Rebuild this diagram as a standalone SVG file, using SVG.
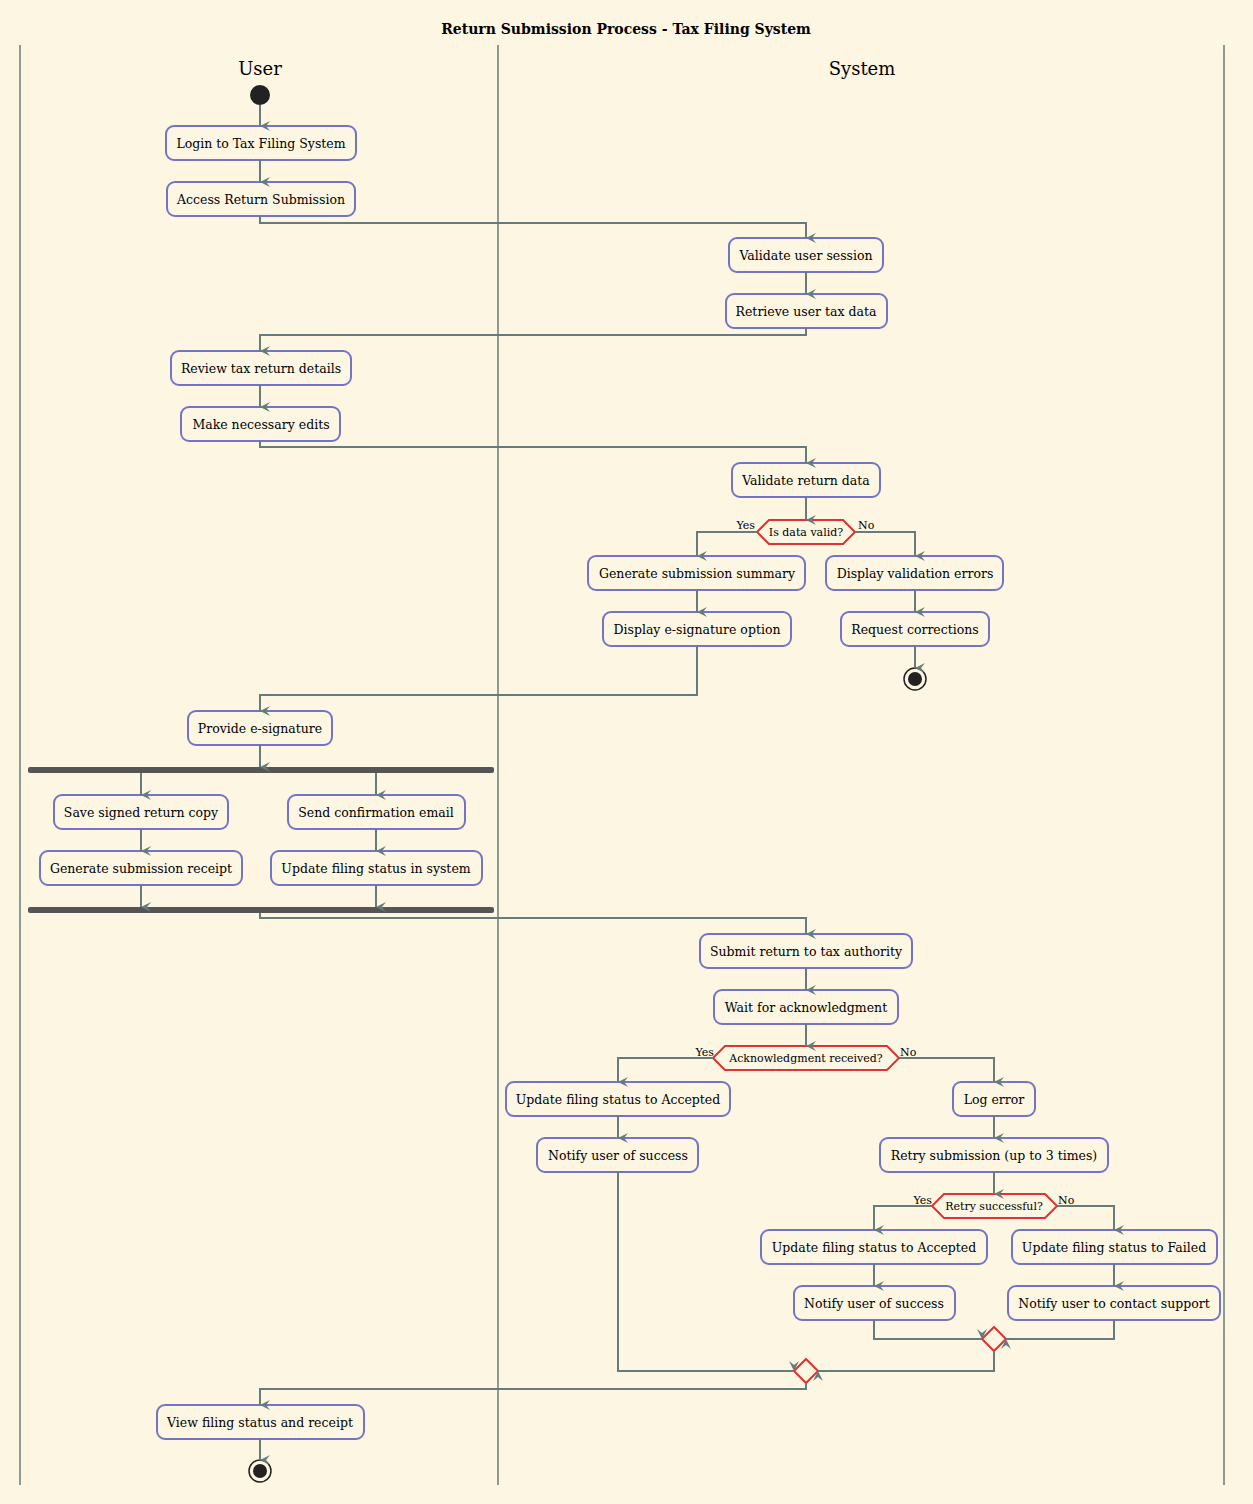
<svg xmlns="http://www.w3.org/2000/svg" width="1253" height="1504" viewBox="0 0 1253 1504">
<style>
text{font-family:"DejaVu Serif","Liberation Serif",serif;fill:#000}
.b rect{fill:#FDF6E3;stroke:#7474C4;stroke-width:2}
.b text{font-size:12.5px;text-anchor:middle}
.d polygon{fill:#FDF6E3;stroke:#E0322E;stroke-width:2}
.d text{font-size:11px;text-anchor:middle}
.c path{fill:none;stroke:#667C7C;stroke-width:2}
.lab{font-size:11px}
.lane{stroke:#667C7C;stroke-width:1.5}
.bar{fill:#555555}
</style>
<defs><marker id="a" viewBox="0 0 12 12" refX="6" refY="11" markerWidth="12" markerHeight="12" markerUnits="userSpaceOnUse" orient="auto-start-reverse"><path d="M1,1 L6,11 L11,1 L6,5 z" fill="#667C7C"/></marker></defs>
<rect width="1253" height="1504" fill="#FDF6E3"/>
<text x="626" y="34" font-size="14" font-weight="bold" text-anchor="middle">Return Submission Process - Tax Filing System</text>
<line class="lane" x1="20" y1="45" x2="20" y2="1485"/><line class="lane" x1="498" y1="45" x2="498" y2="1485"/><line class="lane" x1="1224" y1="45" x2="1224" y2="1485"/>
<text x="260" y="75" font-size="18" text-anchor="middle">User</text>
<text x="862" y="75" font-size="18" text-anchor="middle">System</text>
<g id="start"><circle cx="260" cy="95" r="10" fill="#222"/></g>
<g id="n1" class="b"><rect x="166" y="126" width="190" height="34" rx="8"/><text x="261" y="148">Login to Tax Filing System</text></g>
<g id="n2" class="b"><rect x="167" y="182" width="188" height="34" rx="8"/><text x="261" y="204">Access Return Submission</text></g>
<g id="n3" class="b"><rect x="729" y="238" width="154" height="34" rx="8"/><text x="806" y="260">Validate user session</text></g>
<g id="n4" class="b"><rect x="726" y="294" width="161" height="34" rx="8"/><text x="806" y="316">Retrieve user tax data</text></g>
<g id="n5" class="b"><rect x="171" y="351" width="180" height="34" rx="8"/><text x="261" y="373">Review tax return details</text></g>
<g id="n6" class="b"><rect x="181" y="407" width="159" height="34" rx="8"/><text x="261" y="429">Make necessary edits</text></g>
<g id="n7" class="b"><rect x="732" y="463" width="148" height="34" rx="8"/><text x="806" y="485">Validate return data</text></g>
<g id="d1" class="d"><polygon points="757,532 769,520 843,520 855,532 843,544 769,544"/><text x="806" y="536">Is data valid?</text></g>
<g id="n8" class="b"><rect x="588" y="556" width="217" height="34" rx="8"/><text x="697" y="578">Generate submission summary</text></g>
<g id="n9" class="b"><rect x="603" y="612" width="188" height="34" rx="8"/><text x="697" y="634">Display e-signature option</text></g>
<g id="n10" class="b"><rect x="826" y="556" width="177" height="34" rx="8"/><text x="915" y="578">Display validation errors</text></g>
<g id="n11" class="b"><rect x="841" y="612" width="148" height="34" rx="8"/><text x="915" y="634">Request corrections</text></g>
<g id="end1"><circle cx="915" cy="679" r="11" fill="none" stroke="#222" stroke-width="1.5"/><circle cx="915" cy="679" r="7" fill="#222"/></g>
<g id="n12" class="b"><rect x="188" y="711" width="144" height="34" rx="8"/><text x="260" y="733">Provide e-signature</text></g>
<g id="fork"><rect class="bar" x="28" y="767" width="466" height="6" rx="2"/></g>
<g id="n13" class="b"><rect x="54" y="795" width="174" height="34" rx="8"/><text x="141" y="817">Save signed return copy</text></g>
<g id="n14" class="b"><rect x="288" y="795" width="177" height="34" rx="8"/><text x="376" y="817">Send confirmation email</text></g>
<g id="n15" class="b"><rect x="40" y="851" width="202" height="34" rx="8"/><text x="141" y="873">Generate submission receipt</text></g>
<g id="n16" class="b"><rect x="271" y="851" width="211" height="34" rx="8"/><text x="376" y="873">Update filing status in system</text></g>
<g id="join"><rect class="bar" x="28" y="907" width="466" height="6" rx="2"/></g>
<g id="n17" class="b"><rect x="700" y="934" width="212" height="34" rx="8"/><text x="806" y="956">Submit return to tax authority</text></g>
<g id="n18" class="b"><rect x="714" y="990" width="184" height="34" rx="8"/><text x="806" y="1012">Wait for acknowledgment</text></g>
<g id="d2" class="d"><polygon points="713,1058 725,1046 887,1046 899,1058 887,1070 725,1070"/><text x="806" y="1062">Acknowledgment received?</text></g>
<g id="n19" class="b"><rect x="506" y="1082" width="224" height="34" rx="8"/><text x="618" y="1104">Update filing status to Accepted</text></g>
<g id="n20" class="b"><rect x="537" y="1138" width="161" height="34" rx="8"/><text x="618" y="1160">Notify user of success</text></g>
<g id="n21" class="b"><rect x="953" y="1082" width="82" height="34" rx="8"/><text x="994" y="1104">Log error</text></g>
<g id="n22" class="b"><rect x="880" y="1138" width="228" height="34" rx="8"/><text x="994" y="1160">Retry submission (up to 3 times)</text></g>
<g id="d3" class="d"><polygon points="932,1206 944,1194 1045,1194 1057,1206 1045,1218 944,1218"/><text x="994" y="1210">Retry successful?</text></g>
<g id="n23" class="b"><rect x="761" y="1230" width="226" height="34" rx="8"/><text x="874" y="1252">Update filing status to Accepted</text></g>
<g id="n24" class="b"><rect x="794" y="1286" width="161" height="34" rx="8"/><text x="874" y="1308">Notify user of success</text></g>
<g id="n25" class="b"><rect x="1012" y="1230" width="205" height="34" rx="8"/><text x="1114" y="1252">Update filing status to Failed</text></g>
<g id="n26" class="b"><rect x="1008" y="1286" width="212" height="34" rx="8"/><text x="1114" y="1308">Notify user to contact support</text></g>
<g id="m1" class="d"><polygon points="982,1339 994,1327 1006,1339 994,1351"/></g>
<g id="m2" class="d"><polygon points="794,1371 806,1359 818,1371 806,1383"/></g>
<g id="n27" class="b"><rect x="157" y="1405" width="207" height="34" rx="8"/><text x="260" y="1427">View filing status and receipt</text></g>
<g id="end2"><circle cx="260" cy="1471" r="11" fill="none" stroke="#222" stroke-width="1.5"/><circle cx="260" cy="1471" r="7" fill="#222"/></g>
<g class="c" marker-end="url(#a)">
<path d="M260,105V126"/><path d="M260,160V182"/><path d="M260,216V223H806V238"/><path d="M806,272V294"/>
<path d="M806,328V335H260V351"/><path d="M260,385V407"/><path d="M260,441V447H806V463"/><path d="M806,497V520"/>
<path d="M757,532H697V556"/><path d="M855,532H915V556"/><path d="M697,590V612"/><path d="M915,590V612"/><path d="M915,646V668"/>
<path d="M697,646V695H260V711"/><path d="M260,745V767"/><path d="M141,773V795"/><path d="M376,773V795"/>
<path d="M141,829V851"/><path d="M376,829V851"/><path d="M141,885V907"/><path d="M376,885V907"/>
<path d="M260,913V918H806V934"/><path d="M806,968V990"/><path d="M806,1024V1046"/>
<path d="M713,1058H618V1082"/><path d="M899,1058H994V1082"/><path d="M618,1116V1138"/><path d="M994,1116V1138"/><path d="M994,1172V1194"/>
<path d="M932,1206H874V1230"/><path d="M1057,1206H1114V1230"/><path d="M874,1264V1286"/><path d="M1114,1264V1286"/>
<path d="M874,1320V1339H982"/><path d="M1114,1320V1339H1006"/><path d="M994,1351V1371H818"/><path d="M618,1172V1371H794"/>
<path d="M806,1383V1389H260V1405"/><path d="M260,1439V1460"/>
</g>
<text class="lab" x="755" y="529" text-anchor="end">Yes</text><text class="lab" x="858" y="529">No</text>
<text class="lab" x="714" y="1056" text-anchor="end">Yes</text><text class="lab" x="900" y="1056">No</text>
<text class="lab" x="932" y="1204" text-anchor="end">Yes</text><text class="lab" x="1058" y="1204">No</text>
</svg>
